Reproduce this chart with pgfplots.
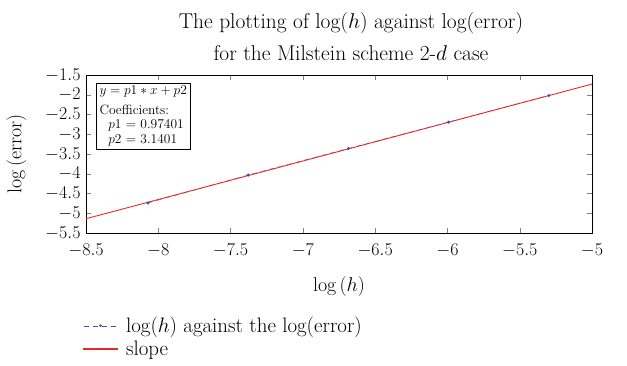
\RequirePackage{fix-cm}
\documentclass[border=0pt]{standalone}
\usepackage{fontspec}
\usepackage{pgfplots}
\pgfplotsset{compat=1.18}
\definecolor{dblue}{RGB}{60,80,175}
\definecolor{lred}{RGB}{235,40,40}
\pgfplotsset{
  blueleg/.style={legend image code/.code={\draw[dblue, dash pattern=on 5bp off 4bp] (0bp,0bp) -- (34bp,0bp); \fill[dblue] (17bp,0bp) circle (1.3pt);}},
  redleg/.style={legend image code/.code={\fill[lred] (0bp,-0.6bp) rectangle (34bp,0.6bp);}},
}
\begin{document}
\begin{tikzpicture}
\path[use as bounding box] (-86bp,-133bp) rectangle (541bp,233bp);
\begin{axis}[at={(0,0)}, anchor=south west, scale only axis,
  width=506bp, height=158bp,
  xmin=-8.5, xmax=-5, ymin=-5.5, ymax=-1.5,
  xtick={-8.5,-8,-7.5,-7,-6.5,-6,-5.5,-5},
  ytick={-5.5,-5,-4.5,-4,-3.5,-3,-2.5,-2,-1.5},
  tick align=inside, major tick length=5bp,
  tick label style={font=\fontsize{18}{19}\selectfont},
  xticklabel style={yshift=-7bp, /pgf/number format/.cd, fixed, precision=1},
  yticklabel style={xshift=-2bp, /pgf/number format/.cd, fixed, precision=1},
  label style={font=\fontsize{20}{22}\selectfont},
  xlabel={log\,($h$)}, ylabel={log\,(error)},
  xlabel style={yshift=-13bp},
  ylabel style={yshift=12bp},
  title={The plotting of log($h$) against log(error)\\for the Milstein scheme 2-$d$ case},
  title style={align=center, font=\fontsize{21.5}{32}\selectfont, at={(axis description cs:0.5,1)}, anchor=south, yshift=5bp, xshift=12bp},
  legend style={at={(axis description cs:0,0)}, anchor=north west, xshift=-6bp, yshift=-80bp, draw=none, fill=none,
    font=\fontsize{21}{22}\selectfont, row sep=3bp, column sep=6bp, cells={anchor=west}},
  legend cell align=left,
]
\addplot[dblue, dash pattern=on 5bp off 4bp, mark=*, mark size=1.3pt, mark options={solid}, blueleg] coordinates {
(-8.0709,-4.7407) (-7.3778,-4.0317) (-6.6846,-3.3597) (-5.9915,-2.6928) (-5.2983,-2.0190)
};
\addlegendentry{log($h$) against the log(error)}
\addplot[color=lred, line width=0.9bp, redleg] coordinates {(-8.5,-5.1390) (-5,-1.7300)};
\addlegendentry{slope}
\node[draw, thick, anchor=north west, align=left, inner sep=3bp, fill=white,
  font=\fontsize{13.5}{14.5}\selectfont] at (axis cs:-8.43,-1.70) {$y = p1 \ast x + p2$\\[5pt]Coefficients:\\\ \ $p1$ = 0.97401\\\ \ $p2$ = 3.1401};
\end{axis}
\end{tikzpicture}
\end{document}
